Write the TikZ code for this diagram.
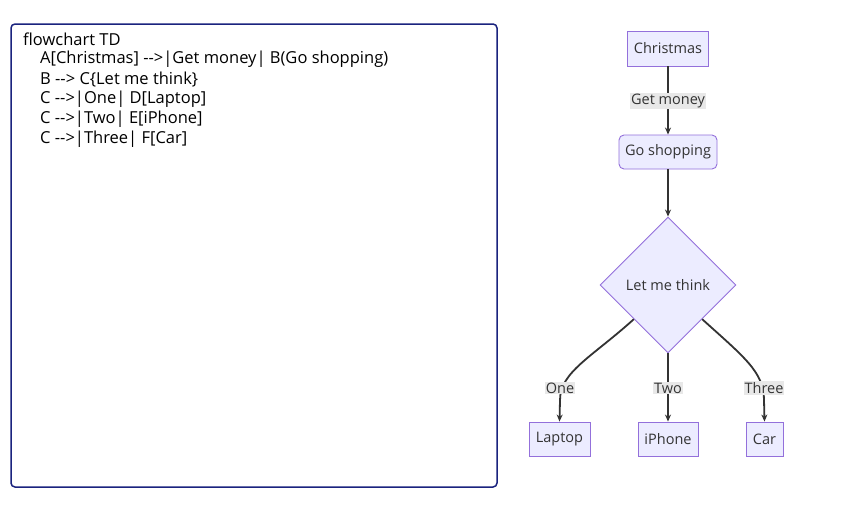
\documentclass[tikz,border=0pt]{standalone}
\usepackage{fontspec}
\setmainfont{Open Sans}[Ligatures=TeXOff]
\usetikzlibrary{shapes.geometric,arrows.meta}
\definecolor{nodefill}{HTML}{ECECFF}
\definecolor{nodeline}{HTML}{9370DB}
\definecolor{edgecol}{HTML}{333333}
\definecolor{lblbg}{HTML}{E8E8E8}
\definecolor{boxline}{HTML}{1A237E}
\tikzset{
  codeline/.style={anchor=west,inner sep=0pt,font=\fontsize{16.5}{19}\selectfont,text=black},
  fbox/.style={draw=nodeline,fill=nodefill,line width=0.9pt,text=edgecol,font=\fontsize{14.5}{17}\selectfont,inner sep=0pt,minimum height=35pt},
  dbox/.style={diamond,draw=nodeline,fill=nodefill,line width=0.9pt,text=edgecol,font=\fontsize{14.5}{17}\selectfont,inner sep=0pt,minimum width=136pt,minimum height=136pt,aspect=1},
  elabel/.style={fill=lblbg,text=edgecol,font=\fontsize{14.5}{17}\selectfont,inner sep=1pt},
  edge/.style={draw=edgecol,line width=1.8pt,-{Stealth[length=7pt,width=6pt]}}
}
\begin{document}
\begin{tikzpicture}[x=1pt,y=-1pt]
\useasboundingbox (0,0) rectangle (850,515);
\fill[white] (0,0) rectangle (850,515);
% editor box
\draw[boxline,line width=1.5pt,rounded corners=4pt] (11,24) rectangle (497,487);
\node[codeline] (l1) at (23,39.5) {flowchart TD};
\node[codeline] (l2) at (40,59.5) {A[Christmas] -->|Get money| B(Go shopping)};
\node[codeline] (l3) at (40,79.5) {B --> C\{Let me think\}};
\node[codeline] (l4) at (40,99.5) {C -->|One| D[Laptop]};
\node[codeline] (l5) at (40,119.5) {C -->|Two| E[iPhone]};
\node[codeline] (l6) at (40,139.5) {C -->|Three| F[Car]};
% flowchart
\node[fbox,minimum width=81pt] (a) at (668,48.5) {Christmas};
\node[fbox,minimum width=98pt,minimum height=34pt,rounded corners=5pt] (b) at (668,152) {Go shopping};
\node[dbox] (c) at (668,285) {Let me think};
\node[fbox,minimum width=61pt,minimum height=34pt] (d) at (559.5,439) {Laptop};
\node[fbox,minimum width=60pt,minimum height=34pt] (e) at (668,439) {iPhone};
\node[fbox,minimum width=37pt,minimum height=34pt] (f) at (764.5,439) {Car};
\draw[edge] (a) -- (b);
\node[elabel] (lab1) at (668,101) {Get money};
\draw[edge] (b) -- (c);
\draw[edge] (c.south west) .. controls (592,357) and (560,372) .. (560,400) -- (d.north);
\draw[edge] (c.south) -- (e.north);
\draw[edge] (c.south east) .. controls (744,357) and (764,372) .. (764,400) -- (f.north);
\node[elabel] (lab2) at (560,388) {One};
\node[elabel] (lab3) at (668,388) {Two};
\node[elabel] (lab4) at (764,388) {Three};
\end{tikzpicture}
\end{document}
